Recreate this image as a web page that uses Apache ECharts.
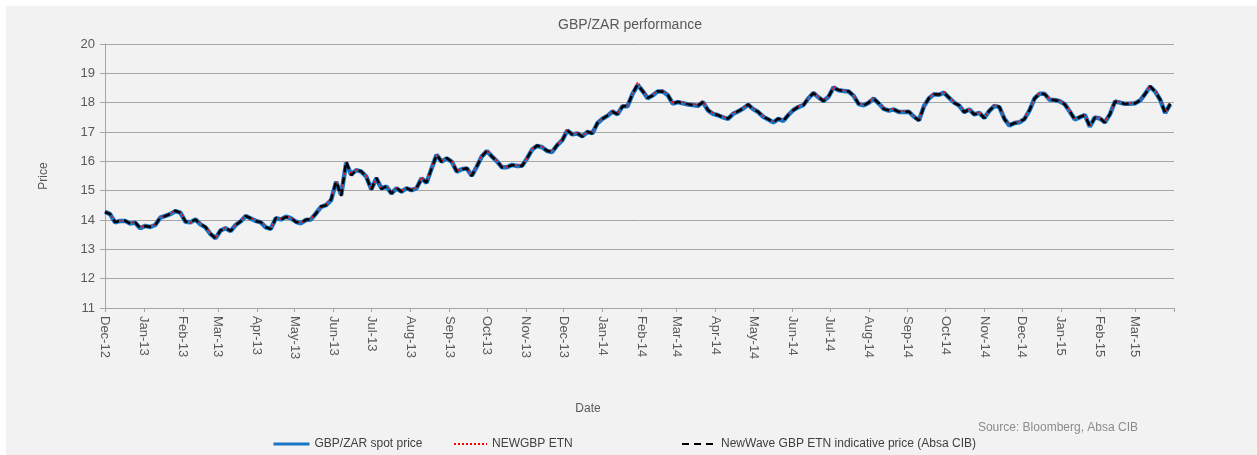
<!DOCTYPE html>
<html>
<head>
<meta charset="utf-8">
<script src="https://cdn.jsdelivr.net/npm/echarts@6/dist/echarts.min.js"></script>
<style>
html,body{margin:0;padding:0;background:#ffffff;width:1257px;height:455px;overflow:hidden;}
#c{position:absolute;left:6px;top:6px;width:1251px;height:449px;background:#f2f2f2;}
</style>
</head>
<body>
<div id="c"></div>
<script>
// ---- data ----
const startDate = [2012, 11, 1];   // 1 Dec 2012 (UTC, month index 11)
const stepDays = 4;                // sampling step of the readings
const tickLabels = ['Dec-12','Jan-13','Feb-13','Mar-13','Apr-13','May-13','Jun-13','Jul-13','Aug-13','Sep-13','Oct-13','Nov-13',
  'Dec-13','Jan-14','Feb-14','Mar-14','Apr-14','May-14','Jun-14','Jul-14','Aug-14','Sep-14','Oct-14','Nov-14',
  'Dec-14','Jan-15','Feb-15','Mar-15'];
const yTicks = [11,12,13,14,15,16,17,18,19,20];
const seriesNames = ['GBP/ZAR spot price', 'NEWGBP ETN', 'NewWave GBP ETN indicative price (Absa CIB)'];

const spotPrice = [14.28,14.2,13.92,13.97,13.97,13.88,13.91,13.72,13.8,13.76,
13.83,14.08,14.14,14.2,14.3,14.25,13.94,13.92,14.02,13.85,
13.75,13.52,13.38,13.64,13.72,13.62,13.83,13.95,14.14,14.05,
13.97,13.92,13.75,13.7,14.06,14.02,14.11,14.06,13.94,13.89,
14.0,14.02,14.23,14.45,14.51,14.68,15.3,14.85,15.95,15.55,
15.7,15.65,15.48,15.05,15.42,15.08,15.14,14.91,15.08,14.97,
15.08,15.02,15.08,15.42,15.27,15.76,16.22,15.99,16.1,15.99,
15.65,15.73,15.76,15.51,15.82,16.17,16.35,16.17,16.0,15.8,
15.8,15.88,15.84,15.85,16.1,16.4,16.53,16.48,16.35,16.32,
16.55,16.72,17.05,16.92,16.95,16.85,17.0,16.96,17.3,17.45,
17.55,17.7,17.6,17.88,17.88,18.3,18.6,18.4,18.15,18.25,
18.38,18.38,18.26,17.97,18.02,17.98,17.94,17.92,17.89,18.02,
17.74,17.62,17.57,17.5,17.45,17.62,17.7,17.8,17.93,17.78,
17.68,17.52,17.43,17.33,17.45,17.38,17.58,17.75,17.85,17.92,
18.15,18.33,18.18,18.06,18.2,18.52,18.42,18.4,18.38,18.23,
17.95,17.91,18.0,18.14,17.97,17.79,17.73,17.77,17.68,17.68,
17.69,17.52,17.4,17.89,18.15,18.29,18.27,18.34,18.16,18.0,
17.9,17.68,17.77,17.6,17.65,17.48,17.72,17.89,17.85,17.45,
17.22,17.31,17.33,17.45,17.74,18.15,18.3,18.3,18.1,18.09,
18.05,17.95,17.7,17.43,17.5,17.58,17.18,17.5,17.46,17.33,
17.6,18.04,18.0,17.96,17.96,17.98,18.07,18.3,18.55,18.38,
18.1,17.65,17.95];

const newgbpEtn = [14.3,14.18,13.95,13.98,13.95,13.9,13.93,13.75,13.82,13.78,
13.85,14.1,14.16,14.22,14.33,14.27,13.97,13.9,14.05,13.88,
13.78,13.55,13.4,13.62,13.75,13.65,13.85,13.97,14.16,14.07,
13.99,13.94,13.78,13.72,14.04,14.05,14.12,14.08,13.96,13.9,
14.02,14.04,14.25,14.47,14.53,14.72,15.33,14.95,15.98,15.58,
15.72,15.68,15.5,15.08,15.45,15.1,15.16,14.94,15.1,15.0,
15.1,15.05,15.1,15.45,15.3,15.78,16.25,16.02,16.12,16.02,
15.68,15.75,15.78,15.55,15.85,16.2,16.38,16.2,16.03,15.83,
15.82,15.9,15.87,15.88,16.12,16.43,16.55,16.5,16.38,16.35,
16.58,16.75,17.08,16.95,16.98,16.88,17.03,16.99,17.33,17.48,
17.58,17.73,17.63,17.9,17.92,18.35,18.7,18.45,18.18,18.28,
18.4,18.42,18.3,18.0,18.05,18.02,17.97,17.95,17.93,18.05,
17.78,17.65,17.6,17.53,17.48,17.65,17.73,17.83,17.96,17.82,
17.7,17.55,17.46,17.36,17.47,17.41,17.6,17.78,17.88,17.95,
18.18,18.36,18.21,18.08,18.23,18.55,18.45,18.42,18.4,18.26,
17.98,17.94,18.03,18.17,18.0,17.82,17.76,17.8,17.7,17.71,
17.72,17.55,17.43,17.9,18.18,18.32,18.3,18.37,18.19,18.03,
17.93,17.71,17.8,17.63,17.68,17.51,17.75,17.92,17.88,17.48,
17.25,17.33,17.36,17.48,17.77,18.17,18.33,18.32,18.13,18.12,
18.08,17.98,17.73,17.46,17.53,17.6,17.22,17.52,17.49,17.36,
17.63,18.06,18.03,17.99,17.98,18.01,18.1,18.33,18.58,18.41,
18.13,17.68,17.98];

const newWaveIndicative = [14.27,14.21,13.93,13.96,13.98,13.87,13.92,13.73,13.79,13.77,
13.82,14.09,14.13,14.21,14.32,14.24,13.95,13.93,14.01,13.86,
13.76,13.53,13.37,13.65,13.71,13.63,13.82,13.96,14.13,14.06,
13.96,13.93,13.76,13.69,14.07,14.01,14.1,14.07,13.93,13.9,
14.01,14.03,14.22,14.46,14.5,14.7,15.32,14.82,16.0,15.52,
15.71,15.66,15.47,15.03,15.44,15.06,15.15,14.9,15.09,14.96,
15.09,15.01,15.09,15.41,15.28,15.75,16.23,15.98,16.11,15.98,
15.66,15.72,15.77,15.5,15.83,16.16,16.36,16.16,16.01,15.79,
15.81,15.87,15.85,15.84,16.11,16.39,16.54,16.47,16.36,16.31,
16.56,16.71,17.06,16.91,16.96,16.84,17.01,16.95,17.31,17.44,
17.56,17.69,17.61,17.87,17.89,18.31,18.62,18.39,18.16,18.24,
18.39,18.37,18.27,17.96,18.03,17.97,17.95,17.91,17.9,18.01,
17.75,17.61,17.58,17.49,17.46,17.61,17.71,17.79,17.94,17.77,
17.69,17.51,17.44,17.32,17.46,17.37,17.59,17.74,17.86,17.91,
18.16,18.32,18.19,18.05,18.21,18.51,18.43,18.39,18.39,18.22,
17.96,17.9,18.01,18.13,17.98,17.78,17.74,17.76,17.69,17.67,
17.7,17.51,17.39,17.88,18.16,18.28,18.28,18.33,18.17,17.99,
17.91,17.67,17.78,17.59,17.66,17.47,17.73,17.88,17.86,17.44,
17.23,17.3,17.34,17.44,17.75,18.14,18.31,18.29,18.11,18.08,
18.06,17.94,17.71,17.42,17.51,17.57,17.19,17.49,17.47,17.32,
17.61,18.03,18.01,17.95,17.97,17.97,18.08,18.29,18.56,18.37,
18.11,17.64,17.96];

// ---- build ----
const DAY = 86400000;
const t0 = Date.UTC(startDate[0], startDate[1], startDate[2]);
const toPairs = arr => arr.map((v, i) => [t0 + i * stepDays * DAY, v]);
const monthStarts = tickLabels.map((s, i) => Date.UTC(2012, 11 + i, 1));
const axisEnd = Date.UTC(2012, 11 + tickLabels.length, 1);
const FONT = '"Liberation Sans", Arial, sans-serif';
const legendText = {fontSize: 12, color: '#404040', fontFamily: FONT};

const chart = echarts.init(document.getElementById('c'), null, {renderer: 'canvas'});
chart.setOption({
  animation: false,
  backgroundColor: 'transparent',
  textStyle: {fontFamily: FONT},
  grid: {left: 99, right: 83, top: 38, bottom: 147, containLabel: false},
  xAxis: {
    type: 'value', min: t0, max: axisEnd, scale: true,
    axisLine: {show: true, lineStyle: {color: '#a6a6a6', width: 1}},
    axisTick: {show: true, length: 4, customValues: monthStarts.concat([axisEnd]), lineStyle: {color: '#a6a6a6'}},
    axisLabel: {
      customValues: monthStarts, rotate: -90, margin: 8, color: '#595959', fontSize: 13, fontFamily: FONT,
      formatter: v => { const i = monthStarts.indexOf(v); return i >= 0 ? tickLabels[i] : ''; }
    },
    splitLine: {show: false}
  },
  yAxis: {
    type: 'value', min: yTicks[0], max: yTicks[yTicks.length - 1], interval: 1,
    axisLine: {show: true, lineStyle: {color: '#a6a6a6', width: 1}},
    axisTick: {show: true, length: 5, lineStyle: {color: '#a6a6a6'}},
    axisLabel: {color: '#595959', fontSize: 13, margin: 10, fontFamily: FONT},
    splitLine: {show: true, lineStyle: {color: '#a6a6a6', width: 1}}
  },
  legend: [
    {left: 261, top: 427, itemWidth: 36, itemHeight: 12, itemStyle: {opacity: 0}, lineStyle: {width: 3},
      textStyle: legendText, data: [seriesNames[0]]},
    {left: 442, top: 427, itemWidth: 33, itemHeight: 12, itemStyle: {opacity: 0},
      textStyle: legendText, data: [seriesNames[1]]},
    {left: 670, top: 427, itemWidth: 34, itemHeight: 12, itemStyle: {opacity: 0},
      textStyle: legendText, data: [seriesNames[2]]}
  ],
  graphic: [
    {type: 'text', x: 624, y: 19, style: {text: 'GBP/ZAR performance', fill: '#595959', font: '14px ' + FONT, textAlign: 'center', textVerticalAlign: 'middle'}},
    {type: 'text', x: 38, y: 170, rotation: Math.PI / 2, style: {text: 'Price', fill: '#595959', font: '12px ' + FONT, textAlign: 'center', textVerticalAlign: 'middle'}},
    {type: 'text', x: 582, y: 403, style: {text: 'Date', fill: '#595959', font: '12px ' + FONT, textAlign: 'center', textVerticalAlign: 'middle'}},
    {type: 'text', x: 1132, y: 422, style: {text: 'Source: Bloomberg, Absa CIB', fill: '#8c8c8c', font: '12px ' + FONT, textAlign: 'right', textVerticalAlign: 'middle'}}
  ],
  series: [
    {name: seriesNames[0], type: 'line', symbol: 'none', data: toPairs(spotPrice),
      lineStyle: {color: '#1a75c4', width: 4.5}, itemStyle: {color: '#1a75c4'}},
    {name: seriesNames[1], type: 'line', symbol: 'none', data: toPairs(newgbpEtn),
      lineStyle: {color: '#ff0000', width: 1.5, type: [2, 2]}, itemStyle: {color: '#ff0000'}},
    {name: seriesNames[2], type: 'line', symbol: 'none', data: toPairs(newWaveIndicative),
      lineStyle: {color: '#000000', width: 2.5, type: [7, 5]}, itemStyle: {color: '#000000'}}
  ]
});
</script>
</body>
</html>
